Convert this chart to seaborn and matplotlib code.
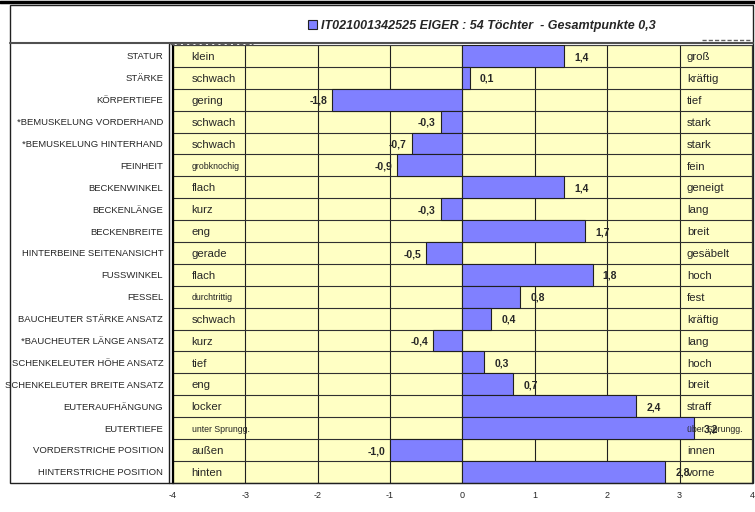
import matplotlib
matplotlib.use('Agg')
import matplotlib.pyplot as plt
import seaborn as sns
import pandas as pd
from matplotlib.patches import Rectangle
from matplotlib.lines import Line2D

traits = ['STATUR', 'STÄRKE', 'KÖRPERTIEFE', '*BEMUSKELUNG VORDERHAND', '*BEMUSKELUNG HINTERHAND',
          'FEINHEIT', 'BECKENWINKEL', 'BECKENLÄNGE', 'BECKENBREITE', 'HINTERBEINE SEITENANSICHT',
          'FUSSWINKEL', 'FESSEL', 'BAUCHEUTER STÄRKE ANSATZ', '*BAUCHEUTER LÄNGE ANSATZ',
          'SCHENKELEUTER HÖHE ANSATZ', 'SCHENKELEUTER BREITE ANSATZ', 'EUTERAUFHÄNGUNG', 'EUTERTIEFE',
          'VORDERSTRICHE POSITION', 'HINTERSTRICHE POSITION']
values = [1.4, 0.1, -1.8, -0.3, -0.7, -0.9, 1.4, -0.3, 1.7, -0.5,
          1.8, 0.8, 0.4, -0.4, 0.3, 0.7, 2.4, 3.2, -1.0, 2.8]
low_labels = ['klein', 'schwach', 'gering', 'schwach', 'schwach', 'grobknochig', 'flach', 'kurz', 'eng',
              'gerade', 'flach', 'durchtrittig', 'schwach', 'kurz', 'tief', 'eng', 'locker',
              'unter Sprungg.', 'außen', 'hinten']
high_labels = ['groß', 'kräftig', 'tief', 'stark', 'stark', 'fein', 'geneigt', 'lang', 'breit',
               'gesäbelt', 'hoch', 'fest', 'kräftig', 'lang', 'hoch', 'breit', 'straff',
               'über Sprungg.', 'innen', 'vorne']
title = 'IT021001342525 EIGER : 54 Töchter  - Gesamtpunkte 0,3'
x_ticks = [-4, -3, -2, -1, 0, 1, 2, 3, 4]

df = pd.DataFrame({'trait': traits, 'value': values})

sns.set_theme(style='white')
plt.rcParams['font.family'] = ['Liberation Sans', 'DejaVu Sans']

fig = plt.figure(figsize=(7.55, 5.12), dpi=100)
ax = fig.add_axes([0.229, 0.057, 0.767, 0.855])
ax.set_facecolor('#FFFFC4')

sns.barplot(data=df, x='value', y='trait', orient='h', color='#8080FF', saturation=1,
            width=1, edgecolor='#202020', linewidth=0.8, label=title, ax=ax, zorder=3)

# grid: row separators and integer lines
for i in range(len(traits) + 1):
    ax.axhline(i - 0.5, color='#303030', lw=0.8, zorder=2)
for t in x_ticks:
    ax.axvline(t, color='#202020', lw=0.8, zorder=1)

ax.set_xlim(-4, 4)
ax.set_xticks(x_ticks)
ax.set_xticklabels([str(t) for t in x_ticks], fontsize=6.5)
ax.tick_params(axis='x', length=0, pad=6)
ax.tick_params(axis='y', length=0, pad=7, labelsize=6.8)
ax.set_xlabel('')
ax.set_ylabel('')
for s in ax.spines.values():
    s.set_color('#404040')
    s.set_linewidth(0.8)
ax.spines['left'].set_linewidth(1.6)
ax.spines['left'].set_color('black')

small = {'grobknochig', 'durchtrittig', 'unter Sprungg.', 'über Sprungg.'}
for i, (v, lo, hi) in enumerate(zip(values, low_labels, high_labels)):
    txt = f'{v:.1f}'.replace('.', ',')
    if v >= 0:
        ax.text(v + 0.14, i + 0.05, txt, ha='left', va='center', fontsize=7.5, fontweight='bold', zorder=5)
    else:
        ax.text(v - 0.07, i + 0.05, txt, ha='right', va='center', fontsize=7.5, fontweight='bold', zorder=5)
    ax.text(-3.74, i + 0.05, lo, ha='left', va='center', fontsize=6.3 if lo in small else 8.2, zorder=5)
    ax.text(3.1, i + 0.05, hi, ha='left', va='center', fontsize=6.3 if hi in small else 8.2, zorder=5)

ax.legend(loc='center', bbox_to_anchor=(0.638, 0.949), bbox_transform=fig.transFigure, frameon=False,
          prop={'weight': 'bold', 'style': 'italic', 'size': 9}, handlelength=0.7, handleheight=0.7,
          handletextpad=0.3)

# outer frame, label box and title box
fig.add_artist(Rectangle((0.0132, 0.0566), 0.984, 0.934, transform=fig.transFigure,
                         fill=False, edgecolor='#202020', lw=1))
fig.add_artist(Line2D([0.2238, 0.2238], [0.0566, 0.914], transform=fig.transFigure, color='#202020', lw=1))
fig.add_artist(Line2D([0.0132, 0.997], [0.916, 0.916], transform=fig.transFigure, color='#505050', lw=1.5))
fig.add_artist(Line2D([0, 1], [0.997, 0.997], transform=fig.transFigure, color='black', lw=2.5))
fig.add_artist(Line2D([0.225, 0.335], [0.914, 0.914], transform=fig.transFigure, color='#606060',
                      lw=1, ls='--', dashes=(3, 1.5)))
fig.add_artist(Line2D([0.93, 0.993], [0.922, 0.922], transform=fig.transFigure, color='#606060',
                      lw=1, ls='--', dashes=(3, 1.5)))

fig.savefig('out.png', dpi=100)
